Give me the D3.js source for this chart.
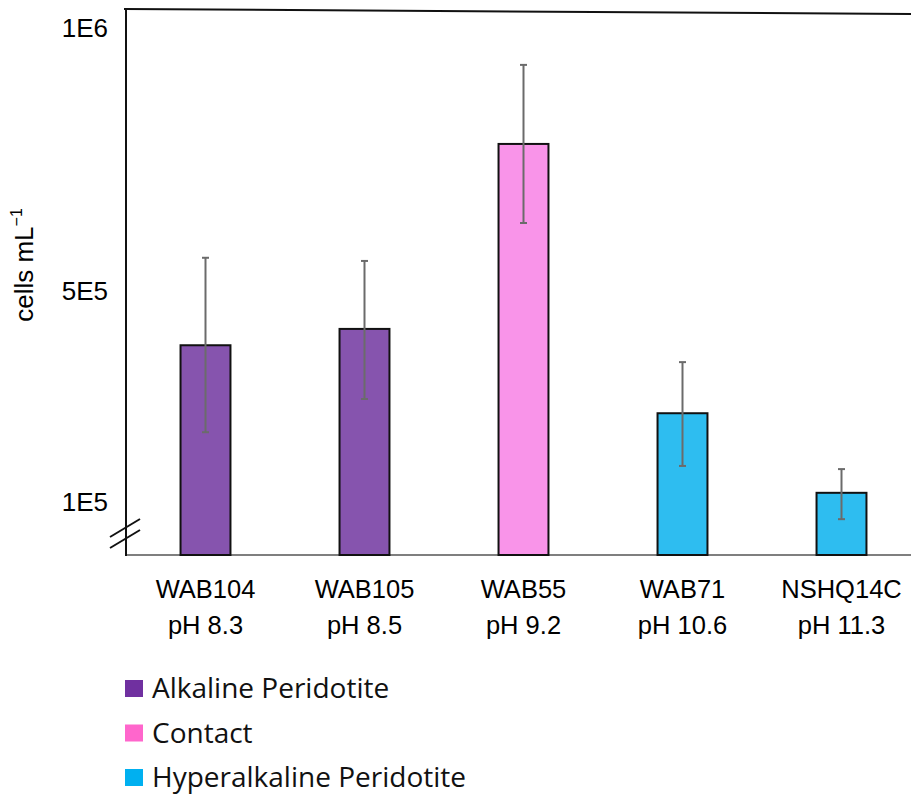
<!DOCTYPE html>
<html>
<head>
<meta charset="utf-8">
<script src="https://cdn.jsdelivr.net/npm/d3@7"></script>
<style>
  body { margin: 0; background: #fff; }
  svg { display: block; }
  .tick text { font-family: 'Liberation Sans', Arial, sans-serif; fill: #000; }
</style>
</head>
<body>
<svg id="chart"></svg>
<script>
// data
var samples = ['WAB104', 'WAB105', 'WAB55', 'WAB71', 'NSHQ14C'];
var phLabels = ['pH 8.3', 'pH 8.5', 'pH 9.2', 'pH 10.6', 'pH 11.3'];
var groups = ['Alkaline Peridotite', 'Alkaline Peridotite', 'Contact', 'Hyperalkaline Peridotite', 'Hyperalkaline Peridotite'];
var cells = [398000, 429000, 780000, 269000, 118000];
var errHigh = [564000, 558000, 930000, 366000, 163000];
var errLow = [233000, 296000, 630000, 169000, 68000];
var yTicks = [1e5, 5e5, 1e6];
var yTickLabels = ['1E5', '5E5', '1E6'];
var legendNames = ['Alkaline Peridotite', 'Contact', 'Hyperalkaline Peridotite'];

var barColor = d3.scaleOrdinal().domain(legendNames).range(['#8654ae', '#f994e9', '#2ebdf0']);
var legendColor = d3.scaleOrdinal().domain(legendNames).range(['#7030a0', '#ff66cc', '#00b0f0']);

var W = 911, H = 794;
var plotLeft = 126, plotRight = 921, plotTop = 28, plotBottom = 555;

var svg = d3.select('#chart').attr('width', W).attr('height', H);

var data = samples.map((s, i) => ({
  name: s, ph: phLabels[i], group: groups[i],
  value: cells[i], hi: errHigh[i], lo: errLow[i]
}));

/**
 * scales
 */
var x = d3.scaleBand()
  .domain(samples)
  .range([plotLeft, plotRight])
  .paddingInner(0.686)
  .paddingOuter(0.343);

var y = d3.scaleLinear()
  .domain([0, 1e6])
  .range([plotBottom, plotTop]);

/**
 * frame
 */
svg.append('line')
  .attr('x1', plotLeft - 2).attr('y1', 9)
  .attr('x2', W).attr('y2', 14)
  .attr('stroke', '#111').attr('stroke-width', 2);

svg.append('line')
  .attr('x1', plotLeft).attr('y1', plotBottom)
  .attr('x2', W).attr('y2', plotBottom)
  .attr('stroke', '#7f7f7f').attr('stroke-width', 2);

/**
 * bars
 */
var bar = svg.append('g').selectAll('g')
  .data(data)
  .enter().append('g');

bar.append('rect')
  .attr('x', d => x(d.name))
  .attr('y', d => y(d.value))
  .attr('width', x.bandwidth())
  .attr('height', d => y(0) - y(d.value))
  .attr('fill', d => barColor(d.group))
  .attr('stroke', '#111')
  .attr('stroke-width', 2);

var cx = d => x(d.name) + x.bandwidth() / 2;

bar.append('line')
  .attr('x1', cx).attr('x2', cx)
  .attr('y1', d => y(d.hi)).attr('y2', d => y(d.lo))
  .attr('stroke', '#6b6b6b').attr('stroke-width', 2);

bar.selectAll('.cap')
  .data(d => [d.hi, d.lo].map(v => ({ c: cx(d), v: v })))
  .enter().append('line')
  .attr('class', 'cap')
  .attr('x1', d => d.c - 3.5).attr('x2', d => d.c + 3.5)
  .attr('y1', d => y(d.v)).attr('y2', d => y(d.v))
  .attr('stroke', '#6b6b6b').attr('stroke-width', 2);

/**
 * axes
 */
var yAxis = d3.axisLeft(y)
  .tickValues(yTicks)
  .tickSize(0)
  .tickPadding(18)
  .tickFormat((d, i) => yTickLabels[i]);

var gy = svg.append('g')
  .attr('transform', `translate(${ plotLeft }, 0)`)
  .call(yAxis);
gy.select('.domain').remove();
gy.selectAll('.tick text').attr('font-size', 26);

svg.append('line')
  .attr('x1', plotLeft).attr('y1', 8)
  .attr('x2', plotLeft).attr('y2', plotBottom + 1)
  .attr('stroke', '#111').attr('stroke-width', 2);

// axis break marks
[0, 11].forEach(off => {
  svg.append('line')
    .attr('x1', 110).attr('y1', 537 + off)
    .attr('x2', 140).attr('y2', 519 + off)
    .attr('stroke', '#111').attr('stroke-width', 2);
});

var xAxis = d3.axisBottom(x).tickSize(0).tickPadding(0);
var gx = svg.append('g')
  .attr('transform', `translate(0, ${ plotBottom })`)
  .call(xAxis);
gx.select('.domain').remove();
gx.selectAll('.tick text').remove();
gx.selectAll('.tick').append('text')
  .attr('text-anchor', 'middle')
  .attr('font-size', 25.5)
  .attr('fill', '#000')
  .selectAll('tspan')
  .data(d => [d, phLabels[samples.indexOf(d)]])
  .enter().append('tspan')
  .attr('x', 0)
  .attr('y', (d, i) => 43 + i * 36)
  .text(d => d);

// y title
var title = svg.append('text')
  .attr('transform', 'translate(33, 265) rotate(-90)')
  .attr('text-anchor', 'middle')
  .attr('font-family', "'Liberation Sans', Arial, sans-serif")
  .attr('font-size', 26)
  .attr('fill', '#000');
title.append('tspan').text('cells mL');
title.append('tspan').attr('font-size', 16).attr('dy', -11).text('\u22121');

/**
 * legend
 */
var legend = svg.append('g').selectAll('g')
  .data(legendNames)
  .enter().append('g')
  .attr('transform', (d, i) => `translate(125, ${ 680 + i * 44.5 })`);

legend.append('rect')
  .attr('width', 18).attr('height', 17)
  .attr('fill', d => legendColor(d));

legend.append('text')
  .attr('x', 27).attr('y', 18)
  .attr('font-family', "'Open Sans', 'Noto Sans', sans-serif")
  .attr('font-size', 28)
  .attr('fill', '#111')
  .text(d => d);
</script>
</body>
</html>
